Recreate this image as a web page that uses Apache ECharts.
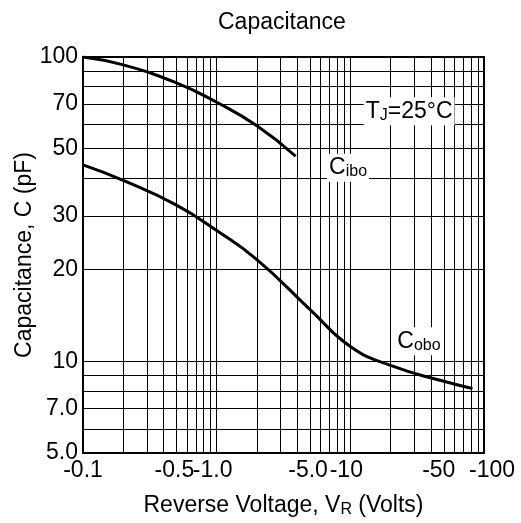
<!DOCTYPE html>
<html>
<head>
<meta charset="utf-8">
<script src="https://cdn.jsdelivr.net/npm/echarts@6/dist/echarts.min.js"></script>
<style>
html, body { margin: 0; padding: 0; background: #fff; }
#main { width: 521px; height: 523px; }
</style>
</head>
<body>
<div id="main"></div>
<script>
// tick labels
const voltTicks = [0.1, 0.5, 1, 5, 10, 50, 100];
const voltLabels = ["-0.1", "-0.5", "-1.0", "-5.0", "-10", "-50", "-100"];
const capTicks = [5, 7, 10, 20, 30, 50, 70, 100];
const capLabels = ["5.0", "7.0", "10", "20", "30", "50", "70", "100"];

// grid lines of the log paper
const voltGrid = [0.2, 0.3, 0.4, 0.5, 0.6, 0.7, 0.8, 0.9, 1, 2, 3, 4, 5, 6, 7, 8, 9, 10,
    20, 30, 40, 50, 60, 70, 80, 90];
const capGrid = [6, 7, 8, 9, 10, 20, 30, 40, 50, 60, 70, 80, 90];

// curves
const ciboVolts = [0.1, 0.2, 0.5, 1, 2, 3.9];
const ciboCap = [100, 94.2, 82.2, 71, 59.4, 47.2];
const coboVolts = [0.1, 0.2, 0.5, 1, 2, 5, 10, 20, 50, 82];
const coboCap = [44.2, 39.3, 32.6, 26.9, 21.6, 14.8, 11.2, 9.7, 8.6, 8.15];

const font = "Liberation Sans";

// small horizontal nudges of the x tick labels (px, + is right)
const voltLabelNudge = [0, -2, -4, -2, -4, -5, 8];

function tickIndex(v, ticks) {
    let best = 0;
    ticks.forEach((t, i) => {
        if (Math.abs(Math.log10(t) - Math.log10(v)) < Math.abs(Math.log10(ticks[best]) - Math.log10(v))) best = i;
    });
    return best;
}

function sub(main, s) {
    return "{b|" + main + "}{s|" + s + "}";
}

const richText = {
    b: { fontSize: 23, fontFamily: font, color: "#000" },
    s: { fontSize: 16, fontFamily: font, color: "#000", padding: [8, 0, 0, 0] }
};

// rich styles for the nudged x labels
const voltRich = {};
voltLabelNudge.forEach((d, i) => {
    voltRich["n" + i] = {
        fontSize: 23, fontFamily: font, color: "#000",
        padding: d >= 0 ? [0, 0, 0, 2 * d] : [0, -2 * d, 0, 0]
    };
});

const myChart = echarts.init(document.getElementById("main"));
const option = {
    animation: false,
    backgroundColor: "#fff",
    title: {
        text: "Capacitance",
        left: 213,
        top: 6,
        textStyle: { fontSize: 23, fontWeight: "normal", fontFamily: font, color: "#000" }
    },
    grid: {
        left: 83, right: 37, top: 57, bottom: 66,
        show: true, borderColor: "#000", borderWidth: 2
    },
    xAxis: {
        type: "log",
        logBase: 10,
        min: 0.1,
        max: 100,
        name: "Reverse Voltage, " + sub("V", "R") + " (Volts)",
        nameLocation: "middle",
        nameGap: 41,
        nameMoveOverlap: false,
        nameTextStyle: { fontSize: 23, fontFamily: font, color: "#000", rich: richText },
        axisLine: { show: true, lineStyle: { color: "#000", width: 2 } },
        axisTick: { show: false },
        splitLine: { show: false },
        minorSplitLine: { show: false },
        axisLabel: {
            customValues: voltTicks,
            margin: 6,
            fontSize: 23,
            fontFamily: font,
            color: "#000",
            rich: voltRich,
            formatter: v => {
                const i = tickIndex(v, voltTicks);
                return "{n" + i + "|" + voltLabels[i] + "}";
            }
        }
    },
    yAxis: {
        type: "log",
        logBase: 10,
        min: 5,
        max: 100,
        name: "Capacitance, C (pF)",
        nameLocation: "middle",
        nameGap: 47,
        nameMoveOverlap: false,
        nameTextStyle: { fontSize: 23, fontFamily: font, color: "#000" },
        axisLine: { show: true, lineStyle: { color: "#000", width: 2 } },
        axisTick: { show: false },
        splitLine: { show: false },
        axisLabel: {
            customValues: capTicks,
            margin: 5,
            fontSize: 23,
            fontFamily: font,
            color: "#000",
            formatter: v => capLabels[tickIndex(v, capTicks)]
        }
    },
    series: [
        {
            // grid lines
            type: "line",
            data: [],
            z: 1,
            silent: true,
            markLine: {
                silent: true,
                symbol: ["none", "none"],
                label: { show: false },
                lineStyle: { color: "#000", width: 1, type: "solid" },
                data: capGrid.map(v => ({ yAxis: v })).concat(voltGrid.map(v => ({ xAxis: v })))
            }
        },
        {
            // annotations
            type: "line",
            data: [],
            z: 2,
            markPoint: {
                symbol: "circle",
                symbolSize: 0,
                label: {
                    show: true,
                    position: "right",
                    distance: 0,
                    backgroundColor: "#fff",
                    padding: [2, 2, 2, 2],
                    rich: richText
                },
                data: [
                    { coord: [12.6, 66.3], label: { formatter: sub("T", "J") + "{b|=25°C}" } },
                    { coord: [6.7, 43.3], label: { formatter: sub("C", "ibo") } },
                    { coord: [21.7, 11.65], label: { formatter: sub("C", "obo") } }
                ]
            }
        },
        {
            name: "Cibo",
            type: "line",
            z: 3,
            smooth: 0.5,
            showSymbol: false,
            lineStyle: { color: "#000", width: 3 },
            data: ciboVolts.map((v, i) => [v, ciboCap[i]])
        },
        {
            name: "Cobo",
            type: "line",
            z: 3,
            smooth: 0.5,
            showSymbol: false,
            lineStyle: { color: "#000", width: 3 },
            data: coboVolts.map((v, i) => [v, coboCap[i]])
        }
    ]
};
myChart.setOption(option);
</script>
</body>
</html>
